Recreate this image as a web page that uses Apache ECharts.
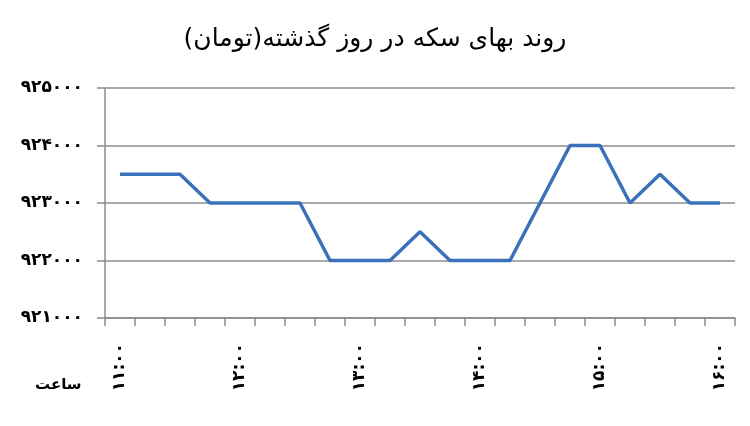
<!DOCTYPE html>
<html><head><meta charset="utf-8">
<script src="https://cdn.jsdelivr.net/npm/echarts@6/dist/echarts.min.js"></script>
<style>html,body{margin:0;padding:0;background:#fff}#c{width:750px;height:426px}</style>
</head><body><div id="c"></div>
<script>
const titleText = 'روند بهای سکه در روز گذشته(تومان)';
const xAxisTitle = 'ساعت';
const categories = ['۱۱:۰۰','۱۱:۱۵','۱۱:۳۰','۱۱:۴۵','۱۲:۰۰','۱۲:۱۵','۱۲:۳۰','۱۲:۴۵','۱۳:۰۰','۱۳:۱۵','۱۳:۳۰','۱۳:۴۵','۱۴:۰۰','۱۴:۱۵','۱۴:۳۰','۱۴:۴۵','۱۵:۰۰','۱۵:۱۵','۱۵:۳۰','۱۵:۴۵','۱۶:۰۰'];
const prices = [923500,923500,923500,923000,923000,923000,923000,922000,922000,922000,922500,922000,922000,922000,923000,924000,924000,923000,923500,923000,923000];
const yTickValues = [921000,922000,923000,924000,925000];
const yTickLabels = ['۹۲۱۰۰۰','۹۲۲۰۰۰','۹۲۳۰۰۰','۹۲۴۰۰۰','۹۲۵۰۰۰'];

const chart = echarts.init(document.getElementById('c'));
chart.setOption({
  animation:false,
  backgroundColor:'#fff',
  title:[
    {text:titleText,left:'center',top:22,textStyle:{fontFamily:'DejaVu Sans',fontSize:25,fontWeight:'normal',color:'#000'}},
    {text:xAxisTitle,left:30,top:373,textStyle:{fontFamily:'DejaVu Sans',fontSize:15,fontWeight:'bold',color:'#000'}}
  ],
  grid:{left:105,right:15,top:88,bottom:108,containLabel:false},
  xAxis:{
    type:'category',data:categories,boundaryGap:true,
    axisLine:{lineStyle:{color:'#8c8c8c',width:1.5}},
    axisTick:{show:true,interval:0,length:8,lineStyle:{color:'#8c8c8c',width:1.5}},
    axisLabel:{interval:3,rotate:90,margin:25,color:'#000',fontFamily:'DejaVu Sans',fontSize:17,fontWeight:'bold'},
    splitLine:{show:false}
  },
  yAxis:{
    type:'value',min:921000,max:925000,interval:1000,
    axisLine:{show:true,lineStyle:{color:'#8c8c8c',width:1.5}},
    axisTick:{show:true,length:8,lineStyle:{color:'#8c8c8c',width:1.5}},
    axisLabel:{margin:22,color:'#000',fontFamily:'DejaVu Sans',fontSize:17,fontWeight:'bold',
      formatter:v=>{const i=yTickValues.indexOf(v);return i>=0?yTickLabels[i]:'';}},
    splitLine:{show:true,lineStyle:{color:'#8c8c8c',width:1.5}}
  },
  series:[{type:'line',data:prices,showSymbol:false,symbol:'none',smooth:false,
    lineStyle:{color:'#3b71bb',width:3.5},itemStyle:{color:'#3b71bb'}}]
});
</script></body></html>
